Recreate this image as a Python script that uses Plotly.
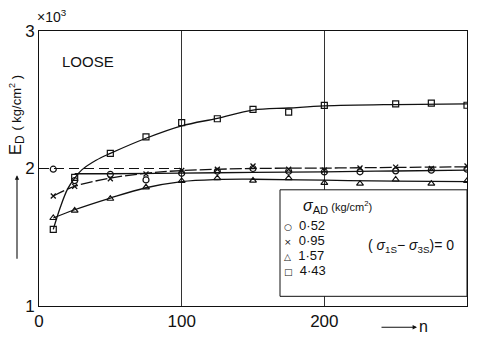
import plotly.graph_objects as go

# Measured points: number of cycles n vs. dynamic modulus E_D (kg/cm^2)
n_pts = [10, 25, 50, 75, 100, 125, 150, 175, 200, 225, 250, 275, 300]
E_052 = [1995, 1912, 1958, 1917, 1965, 1980, 2000, 1980, 1975, 1976, 1983, 1988, 1995]
E_095 = [1800, 1870, 1925, 1960, 1985, 1994, 2018, 1995, 1988, 2004, 2010, 2000, 2018]
E_157 = [1640, 1694, 1780, 1863, 1910, 1930, 1912, 1930, 1895, 1890, 1920, 1890, 1910]
n_sq = [10, 25, 50, 75, 100, 125, 150, 175, 200, 250, 275, 300]
E_443 = [1557, 1936, 2110, 2230, 2334, 2362, 2430, 2410, 2459, 2470, 2475, 2460]

# Hand-drawn fitted curves through each series
fit_n_052 = [25, 50, 100, 150, 200, 250, 300]
fit_E_052 = [1962, 1962, 1966, 1972, 1976, 1982, 1988]
fit_n_095 = [10, 25, 50, 75, 100, 150, 200, 250, 300]
fit_E_095 = [1800, 1870, 1930, 1965, 1985, 2000, 2003, 2008, 2012]
fit_n_157 = [10, 25, 50, 75, 100, 125, 150, 200, 250, 300]
fit_E_157 = [1640, 1700, 1785, 1860, 1905, 1920, 1922, 1915, 1908, 1905]
fit_n_443 = [10, 15, 20, 25, 30, 40, 50, 75, 100, 125, 150, 175, 200, 250, 300]
fit_E_443 = [1557, 1720, 1850, 1930, 1990, 2060, 2110, 2220, 2310, 2365, 2425, 2440, 2455, 2465, 2470]

# Initial-value reference level
ref_n = [0, 100]
ref_E = [2000, 2000]

sigma_labels = ["0·52", "0·95", "1·57", "4·43"]
legend_glyphs = ["○", "×", "△", "□"]

FONT = "Liberation Sans"
INK = "#111"

# plot-area geometry in pixels (used to place paper-referenced labels)
L, R, T, B, W, H = 39, 13, 31, 28, 480, 343
PW, PH = W - L - R, H - T - B


def px_x(px):
    return (px - L) / PW


def px_y(py):
    return (H - B - py) / PH


fig = go.Figure()

line_style = dict(color=INK, width=1.3)
fig.add_trace(go.Scatter(x=ref_n, y=ref_E, mode="lines",
                         line=dict(color=INK, width=1.2, dash="10px,5px")))
fig.add_trace(go.Scatter(x=fit_n_052, y=fit_E_052, mode="lines", line_shape="spline", line=line_style))
fig.add_trace(go.Scatter(x=fit_n_095, y=fit_E_095, mode="lines", line_shape="spline",
                         line=dict(color=INK, width=1.3, dash="12px,3px")))
fig.add_trace(go.Scatter(x=fit_n_157, y=fit_E_157, mode="lines", line_shape="spline", line=line_style))
fig.add_trace(go.Scatter(x=fit_n_443, y=fit_E_443, mode="lines", line_shape="spline", line=line_style))

fig.add_trace(go.Scatter(x=n_pts, y=E_052, mode="markers",
                         marker=dict(symbol="circle-open", size=6, color=INK, line=dict(width=1.2))))
fig.add_trace(go.Scatter(x=n_pts, y=E_095, mode="markers",
                         marker=dict(symbol="x-thin-open", size=5, color=INK, line=dict(width=1.3))))
fig.add_trace(go.Scatter(x=n_pts, y=E_157, mode="markers",
                         marker=dict(symbol="triangle-up-open", size=6, color=INK, line=dict(width=1.2))))
fig.add_trace(go.Scatter(x=n_sq, y=E_443, mode="markers",
                         marker=dict(symbol="square-open", size=6, color=INK, line=dict(width=1.2))))

# Legend box (white panel over the grid)
fig.add_shape(type="rect", xref="paper", yref="paper",
              x0=px_x(280), x1=1.0, y0=px_y(305), y1=px_y(195),
              line=dict(color=INK, width=1), fillcolor="white", layer="above")

ann = []
ann.append(dict(text="<i>σ</i><sub>AD</sub><span style='font-size:11px'> (kg/cm<sup>2</sup>)</span>",
                x=px_x(301), y=px_y(212), xref="paper", yref="paper", xanchor="left", yanchor="middle",
                showarrow=False, font=dict(size=16, family=FONT, color=INK)))
for i, (g, lab) in enumerate(zip(legend_glyphs, sigma_labels)):
    yy = px_y(232 + i * 15.3)
    ann.append(dict(text=f"<span style='font-family:DejaVu Sans;font-size:9px'>{g}</span>  {lab}",
                    x=px_x(283), y=yy, xref="paper", yref="paper", xanchor="left",
                    yanchor="middle", showarrow=False, borderpad=0,
                    font=dict(size=13, family=FONT, color=INK)))
ann.append(dict(text="( <i>σ</i><sub>1S</sub>− <i>σ</i><sub>3S</sub>)= 0",
                x=px_x(366), y=px_y(253), xref="paper", yref="paper", xanchor="left", yanchor="middle",
                showarrow=False, font=dict(size=14, family=FONT, color=INK)))
# Panel title
ann.append(dict(text="LOOSE", x=px_x(60), y=px_y(62), xref="paper", yref="paper", xanchor="left",
                yanchor="middle", showarrow=False, font=dict(size=15, family=FONT, color=INK)))
# Scale factor on the y axis
ann.append(dict(text="×10<sup>3</sup>", x=px_x(35), y=px_y(27), xref="paper", yref="paper",
                xanchor="left", yanchor="bottom", showarrow=False,
                font=dict(size=14, family=FONT, color=INK)))
# Y-axis title with leading arrow
ann.append(dict(text="E<sub>D</sub> <span style='font-size:13px'>( kg/cm<sup>2</sup> )</span>",
                x=px_x(17), y=px_y(118), xref="paper", yref="paper", showarrow=False, textangle=-90,
                xanchor="center", yanchor="middle", font=dict(size=17, family=FONT, color=INK)))
ann.append(dict(x=px_x(17), y=px_y(180), ax=0, ay=85, xref="paper", yref="paper",
                axref="pixel", ayref="pixel",
                text="", showarrow=True, arrowhead=2, arrowsize=0.8, arrowwidth=1.1, arrowcolor=INK))
# X-axis title with leading arrow
ann.append(dict(text="n", x=px_x(417), y=px_y(336), xref="paper", yref="paper", xanchor="left",
                yanchor="middle", showarrow=False, font=dict(size=16, family=FONT, color=INK)))
ann.append(dict(x=px_x(417), y=px_y(337), ax=-37, ay=0, xref="paper", yref="paper",
                axref="pixel", ayref="pixel",
                text="", showarrow=True, arrowhead=2, arrowsize=0.8, arrowwidth=1.1, arrowcolor=INK))

fig.update_layout(
    width=W, height=H,
    margin=dict(l=L, r=R, t=T, b=B),
    paper_bgcolor="white", plot_bgcolor="white",
    showlegend=False,
    annotations=ann,
    font=dict(family=FONT, color=INK),
    xaxis=dict(range=[0, 300], tickvals=[0, 100, 200, 300], ticks="", showgrid=True,
               gridcolor="#333", gridwidth=1, showline=True, linecolor=INK, linewidth=1,
               mirror=True, zeroline=False, tickfont=dict(size=17, family=FONT, color=INK)),
    yaxis=dict(range=[1000, 3000], tickvals=[1000, 2000, 3000], ticktext=["1", "2", "3"],
               ticks="inside", ticklen=4, tickcolor=INK, showgrid=False, showline=True,
               linecolor=INK, linewidth=1, mirror=True, zeroline=False,
               tickfont=dict(size=17, family=FONT, color=INK)),
)

fig.write_html("out.html")
